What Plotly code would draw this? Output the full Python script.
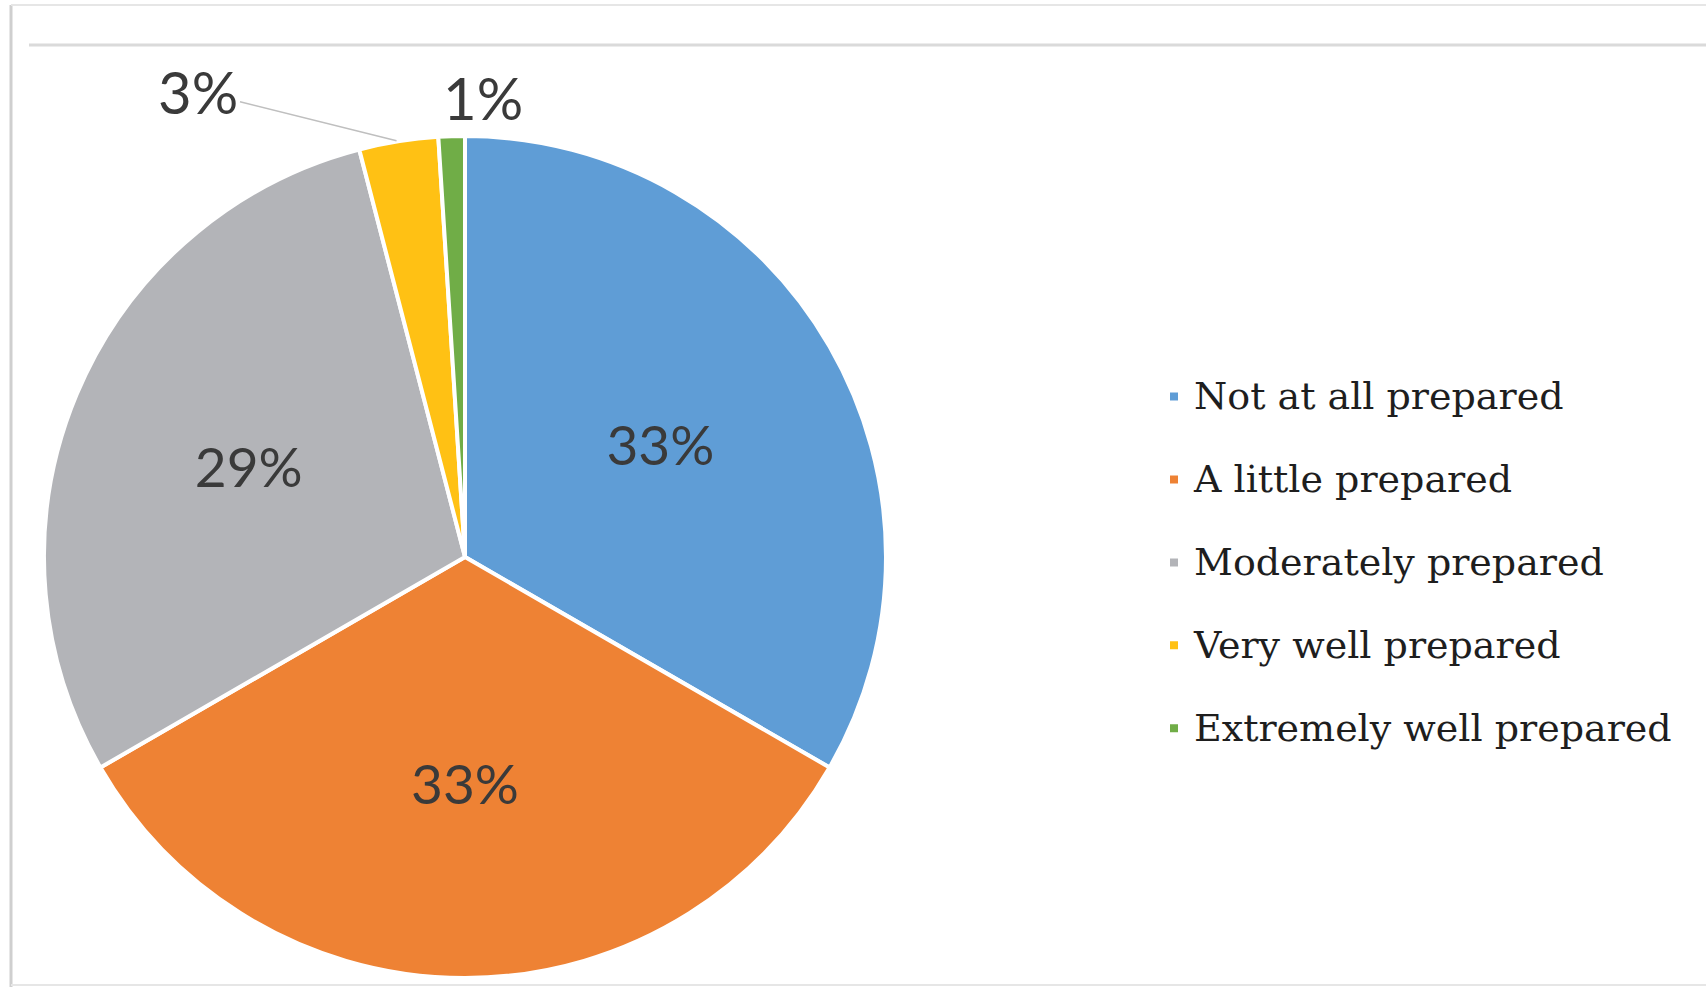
import math
import plotly.graph_objects as go

categories = ["Not at all prepared", "A little prepared", "Moderately prepared",
              "Very well prepared", "Extremely well prepared"]
values = [33, 33, 29, 3, 1]
colors = ["#5F9DD6", "#EE8234", "#B3B4B8", "#FFC114", "#70AD47"]
inside = [True, True, True, False, False]

W, H = 1706, 987
cx, cy, r = 465, 557, 421

legend_fs = 38
legend_line_fs = 61.5
pct_font = dict(family="Lato", size=55, color="#3A3A3A")


def legend_label(c):
    # text size for the legend entry, raised slightly so it centres on the swatch
    return f"<span style='font-size:{legend_fs}px;baseline-shift:11px'>{c}</span>"


fig = go.Figure(go.Pie(
    labels=[legend_label(c) for c in categories],
    values=values,
    sort=False,
    direction="clockwise",
    rotation=0,
    marker=dict(colors=colors, line=dict(color="white", width=4)),
    texttemplate=[f"{v}%" if ins else "" for v, ins in zip(values, inside)],
    textposition=["inside" if ins else "none" for ins in inside],
    textfont=pct_font,
    insidetextorientation="horizontal",
    domain=dict(x=[(cx - r) / W, (cx + r) / W], y=[(H - cy - r) / H, (H - cy + r) / H]),
    hoverinfo="skip",
))

# outside labels for the small slices, anchored at the slice's mid-angle on the rim
total = sum(values)
cum = 0
mid_angles = []
for v in values:
    mid_angles.append((cum + v / 2) / total * 2 * math.pi)
    cum += v

annotations = []
offsets = {3: dict(ax=-200, ay=-50, showarrow=True),
           4: dict(xshift=-11, yshift=75, showarrow=False)}
for i, ins in enumerate(inside):
    if ins:
        continue
    th = mid_angles[i]
    px = cx + r * math.sin(th)
    py = cy - r * math.cos(th)
    a = dict(x=px / W, y=1 - py / H, xref="paper", yref="paper",
             text=f"{values[i]}%", font=dict(pct_font, size=58))
    o = offsets[i]
    if o["showarrow"]:
        a.update(showarrow=True, arrowhead=0, arrowwidth=1.5, arrowcolor="#BFBFBF",
                 ax=o["ax"], ay=o["ay"], standoff=2)
    else:
        a.update(showarrow=False, xshift=o["xshift"], yshift=o["yshift"])
    annotations.append(a)

fig.update_layout(
    width=W, height=H,
    margin=dict(l=0, r=0, t=0, b=0),
    paper_bgcolor="white",
    showlegend=True,
    legend=dict(
        x=1154 / W, y=(H - 350) / H, xanchor="left", yanchor="top",
        font=dict(family="DejaVu Serif", size=legend_line_fs, color="#1E1E1E"),
        itemwidth=30,
        bgcolor="rgba(0,0,0,0)",
    ),
    annotations=annotations,
    shapes=[
        dict(type="line", xref="paper", yref="paper", x0=11 / W, x1=11 / W, y0=0, y1=1 - 5 / H,
             line=dict(color="#CFCFCF", width=3)),
        dict(type="line", xref="paper", yref="paper", x0=11 / W, x1=1, y0=1 - 5 / H, y1=1 - 5 / H,
             line=dict(color="#E6E6E6", width=2)),
        dict(type="line", xref="paper", yref="paper", x0=11 / W, x1=1, y0=2 / H, y1=2 / H,
             line=dict(color="#E6E6E6", width=2)),
        dict(type="line", xref="paper", yref="paper", x0=29 / W, x1=1, y0=1 - 45 / H, y1=1 - 45 / H,
             line=dict(color="#DADADA", width=3)),
    ],
)

fig.write_html("out.html", config={"displayModeBar": False},
               post_script="document.body.style.margin='0px';")
